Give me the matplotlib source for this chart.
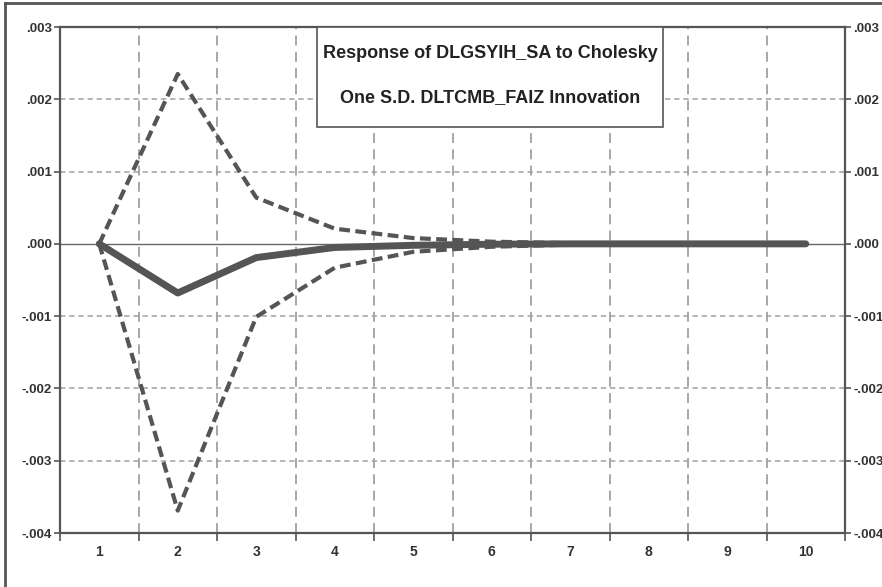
import matplotlib.pyplot as plt
from matplotlib.lines import Line2D
from matplotlib.patches import Rectangle
import numpy as np

periods = [1, 2, 3, 4, 5, 6, 7, 8, 9, 10]
response = [0.0, -0.00068, -0.00019, -0.00005, -0.00002, -0.000005, 0.0, 0.0, 0.0, 0.0]
upper = [0.0, 0.00235, 0.00064, 0.00021, 0.00008, 0.00003, 0.00001, 0.0, 0.0, 0.0]
lower = [0.0, -0.00369, -0.00101, -0.00033, -0.00011, -0.00004, -0.00001, 0.0, 0.0, 0.0]
yticks = [-0.004, -0.003, -0.002, -0.001, 0.0, 0.001, 0.002, 0.003]
ylabels = ['-.004', '-.003', '-.002', '-.001', '.000', '.001', '.002', '.003']
title_top = 'Response of DLGSYIH_SA to Cholesky'
title_bottom = 'One S.D. DLTCMB_FAIZ Innovation'

plt.rcParams['font.family'] = ['Liberation Sans', 'DejaVu Sans']

fig = plt.figure(figsize=(8.82, 5.87), dpi=100)
ax = fig.add_axes([60 / 882, 54 / 587, 785 / 882, 506 / 587])

dark = '#555555'
grid = '#a0a0a0'

ax.axhline(0, color='#666666', lw=1.0, zorder=1)
for y in yticks:
    if y != 0:
        ax.axhline(y, color=grid, lw=1.1, ls=(0, (3.5, 2.5)), zorder=0)
for x in np.arange(1.5, 10.5, 1):
    ax.axvline(x, color=grid, lw=1.3, ls=(0, (5.5, 3.5)), zorder=0)

ax.plot(periods, upper, color=dark, lw=3.0, ls=(0, (2.6, 1.3)), zorder=2)
ax.plot(periods, lower, color=dark, lw=3.0, ls=(0, (2.6, 1.3)), zorder=2)
ax.plot(periods, response, color=dark, lw=5.0, solid_capstyle='round', zorder=3)

ax.set_xlim(0.5, 10.5)
ax.set_ylim(-0.004, 0.003)
ax.set_xticks(periods)
ax.set_xticklabels([str(p) for p in periods], fontsize=10, fontweight='bold', color='#333333')
ax.set_xticks(np.arange(0.5, 11, 1), minor=True)
ax.tick_params(axis='x', which='major', length=0, pad=9)
ax.tick_params(axis='x', which='minor', length=6, direction='out', color=dark, width=1.2)
ax.set_yticks(yticks)
ax.set_yticklabels(ylabels, fontsize=9.5, fontweight='bold', color='#333333')
ax.tick_params(axis='y', which='major', length=4, direction='out', color=dark, width=1.2,
               left=True, right=True, labelleft=True, labelright=True, pad=2)
for side in ax.spines.values():
    side.set_color(dark)
    side.set_linewidth(1.6)

# title box sits on the top edge of the plot
ax.add_patch(Rectangle((0.327, 0.802), 0.441, 0.198, transform=ax.transAxes,
                       fc='white', ec=dark, lw=1.2, zorder=5))
ax.text(0.548, 0.947, title_top, transform=ax.transAxes, ha='center', va='center',
        fontsize=13, fontweight='bold', color='#222222', zorder=6)
ax.text(0.548, 0.861, title_bottom, transform=ax.transAxes, ha='center', va='center',
        fontsize=13, fontweight='bold', color='#222222', zorder=6)

fig.add_artist(Line2D([5 / 882, 1.0], [1 - 3 / 587, 1 - 3 / 587], color=dark, lw=2))
fig.add_artist(Line2D([5 / 882, 5 / 882], [0.0, 1 - 3 / 587], color=dark, lw=2))

fig.savefig('out.png', dpi=100)
